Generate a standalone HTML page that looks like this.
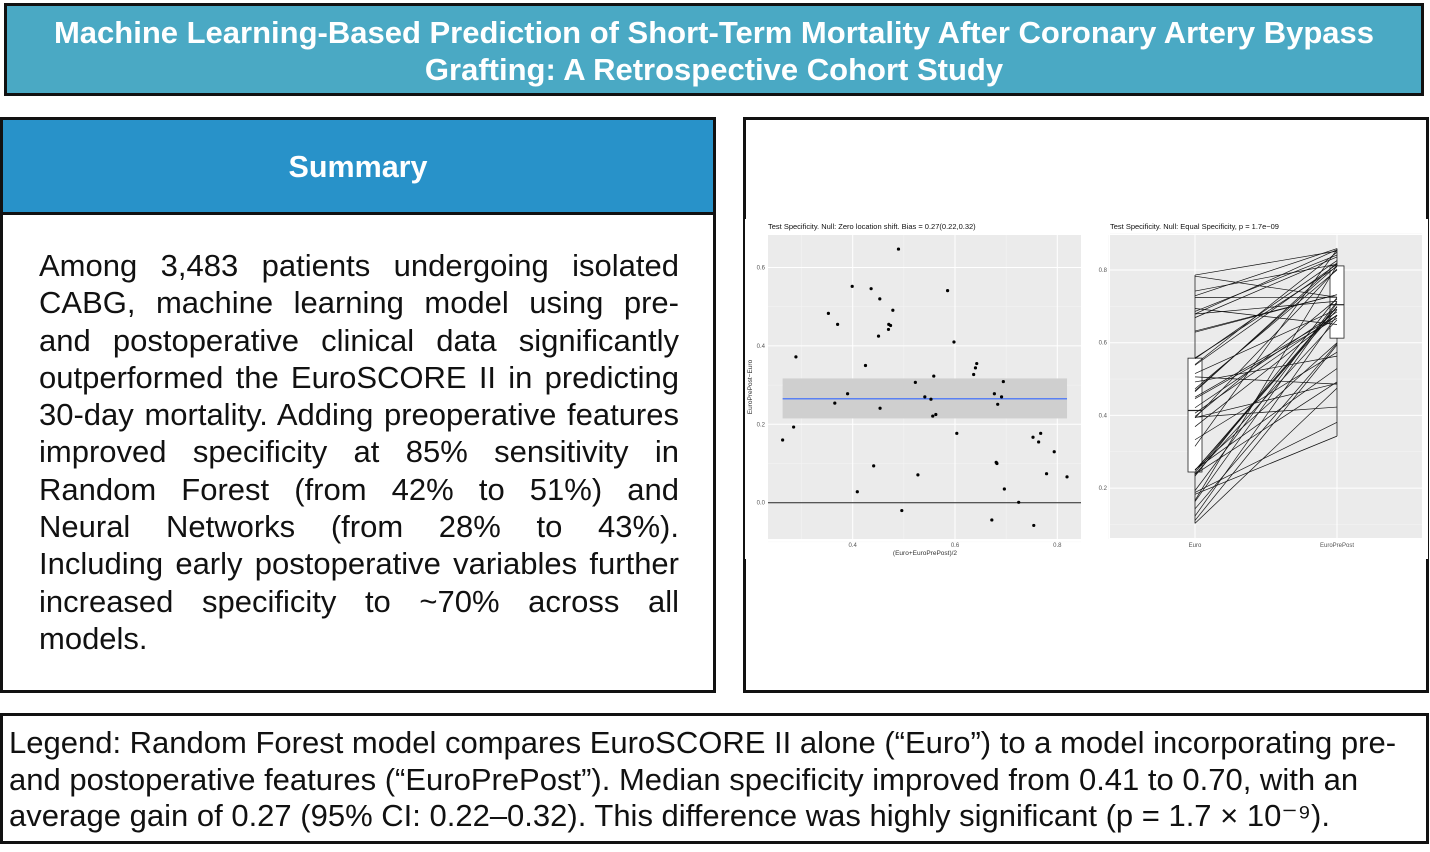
<!DOCTYPE html>
<html><head><meta charset="utf-8">
<style>
*{margin:0;padding:0;box-sizing:border-box}
body{width:1430px;height:852px;background:#fff;position:relative;overflow:hidden;font-family:"Liberation Sans",Arial,sans-serif}
.box{position:absolute;border:3px solid #111}
#title{left:4px;top:3px;width:1420px;height:93px;background:#4aa9c4;color:#fff;font-weight:bold;font-size:31px;text-align:center;line-height:37px;padding-top:8px;white-space:nowrap}
#sum{left:0;top:117px;width:716px;height:576px}
#sumhead{position:absolute;left:0;top:0;width:710px;height:95px;background:#2892c9;border-bottom:3px solid #111;color:#fff;font-weight:bold;font-size:30.5px;text-align:center;line-height:95px}
#sumbody{position:absolute;left:36px;top:127px;width:640px;font-size:31px;line-height:37.3px;color:#111}
#sumbody div{text-align:justify;text-align-last:justify;white-space:nowrap}
#sumbody div.last{text-align-last:left}
#chartbox{left:743px;top:117px;width:686px;height:576px}
#legend{left:0;top:713px;width:1429px;height:131px;font-size:31px;line-height:36.7px;padding:9px 0 0 6px;color:#111;white-space:nowrap}
svg text{font-family:"Liberation Sans",Arial,sans-serif}
</style></head><body>
<div id="title" class="box">Machine Learning-Based Prediction of Short-Term Mortality After Coronary Artery Bypass<br>Grafting: A Retrospective Cohort Study</div>
<div id="sum" class="box">
<div id="sumhead">Summary</div>
<div id="sumbody">
<div>Among 3,483 patients undergoing isolated</div>
<div>CABG, machine learning model using pre-</div>
<div>and postoperative clinical data significantly</div>
<div>outperformed the EuroSCORE II in predicting</div>
<div>30-day mortality. Adding preoperative features</div>
<div>improved specificity at 85% sensitivity in</div>
<div>Random Forest (from 42% to 51%) and</div>
<div>Neural Networks (from 28% to 43%).</div>
<div>Including early postoperative variables further</div>
<div>increased specificity to ~70% across all</div>
<div class="last">models.</div>
</div></div>
<div id="chartbox" class="box"></div>
<svg id="charts" style="position:absolute;left:0;top:0" width="1430" height="852"></svg>
<div id="legend" class="box">Legend: Random Forest model compares EuroSCORE II alone (“Euro”) to a model incorporating pre-<br>and postoperative features (“EuroPrePost”). Median specificity improved from 0.41 to 0.70, with an<br>average gain of 0.27 (95% CI: 0.22–0.32). This difference was highly significant (p = 1.7 × 10⁻⁹).</div>
<script>
const euro=[0.183,0.188,0.103,0.111,0.143,0.238,0.251,0.123,0.395,0.250,0.163,0.394,0.238,0.193,0.333,0.243,0.249,0.248,0.233,0.166,0.506,0.369,0.492,0.406,0.421,0.446,0.397,0.450,0.315,0.393,0.515,0.473,0.468,0.465,0.694,0.538,0.629,0.632,0.558,0.556,0.540,0.679,0.724,0.669,0.783,0.686,0.679,0.742,0.729,0.786];
const prePost=[0.343,0.381,0.475,0.594,0.598,0.492,0.529,0.675,0.423,0.600,0.709,0.488,0.663,0.713,0.574,0.698,0.691,0.700,0.724,0.813,0.486,0.676,0.563,0.676,0.685,0.667,0.720,0.675,0.856,0.803,0.692,0.800,0.812,0.820,0.650,0.816,0.732,0.732,0.809,0.826,0.849,0.714,0.725,0.836,0.725,0.841,0.856,0.816,0.859,0.852];
const biasVals=[0.265,0.215,0.317];
const leftXTicks=[0.4,0.6,0.8];
const leftYTicks=[0.0,0.2,0.4,0.6];
const rightYTicks=[0.2,0.4,0.6,0.8];
const groups=["Euro","EuroPrePost"];
const NS="http://www.w3.org/2000/svg";
const svg=document.getElementById('charts');
function mk(t,a,p){const e=document.createElementNS(NS,t);for(const k in a)e.setAttribute(k,a[k]);(p||svg).appendChild(e);return e;}
mk('rect',{x:745,y:219,width:683,height:340,fill:'#fff'});
// LEFT
const lx=v=>852.7+(v-0.4)*511.5, ly=v=>502.7-v*392;
const L={x0:768,x1:1081,y0:235,y1:539};
mk('rect',{x:L.x0,y:L.y0,width:L.x1-L.x0,height:L.y1-L.y0,fill:'#ebebeb'});
for(let v=0.3;v<0.9;v+=0.2){mk('line',{x1:lx(v),x2:lx(v),y1:L.y0,y2:L.y1,stroke:'#f5f5f5','stroke-width':0.5});}
for(let v=-0.1;v<0.7;v+=0.2){mk('line',{x1:L.x0,x2:L.x1,y1:ly(v),y2:ly(v),stroke:'#f5f5f5','stroke-width':0.5});}
leftXTicks.forEach(v=>{mk('line',{x1:lx(v),x2:lx(v),y1:L.y0,y2:L.y1,stroke:'#fff','stroke-width':1});
 const t=mk('text',{x:lx(v),y:547,'font-size':6,fill:'#555','text-anchor':'middle'});t.textContent=v.toFixed(1);});
leftYTicks.forEach(v=>{mk('line',{x1:L.x0,x2:L.x1,y1:ly(v),y2:ly(v),stroke:'#fff','stroke-width':1});
 const t=mk('text',{x:765,y:ly(v)+2,'font-size':6,fill:'#555','text-anchor':'end'});t.textContent=v.toFixed(1);});
const means=euro.map((e,i)=>(e+prePost[i])/2), diffs=euro.map((e,i)=>prePost[i]-e);
const mnX=Math.min(...means), mxX=Math.max(...means);
mk('rect',{x:lx(mnX),y:ly(biasVals[2]),width:lx(mxX)-lx(mnX),height:ly(biasVals[1])-ly(biasVals[2]),fill:'#cfcfcf'});
mk('line',{x1:lx(mnX),x2:lx(mxX),y1:ly(biasVals[0]),y2:ly(biasVals[0]),stroke:'#3366ff','stroke-width':1.2});
mk('line',{x1:L.x0,x2:L.x1,y1:ly(0),y2:ly(0),stroke:'#222','stroke-width':1});
means.forEach((m,i)=>{const c=mk('circle',{cx:lx(m),cy:ly(diffs[i]),r:1.6,fill:'#000'});

});
let t=mk('text',{x:768,y:229,'font-size':7.5,fill:'#111'});t.textContent='Test Specificity. Null: Zero location shift. Bias = 0.27(0.22,0.32)';
t=mk('text',{x:925,y:555,'font-size':6.5,fill:'#333','text-anchor':'middle'});t.textContent='(Euro+EuroPrePost)/2';
t=mk('text',{x:0,y:0,'font-size':6.5,fill:'#333','text-anchor':'middle',transform:'translate(752,387) rotate(-90)'});t.textContent='EuroPrePost−Euro';
// RIGHT
const R={x0:1110,x1:1422,y0:235,y1:538};
const gx=[1195,1337], ry=v=>270+(0.8-v)*363.5;
mk('rect',{x:R.x0,y:R.y0,width:R.x1-R.x0,height:R.y1-R.y0,fill:'#ebebeb'});
for(let v=0.1;v<0.95;v+=0.2){mk('line',{x1:R.x0,x2:R.x1,y1:ry(v),y2:ry(v),stroke:'#f5f5f5','stroke-width':0.5});}
rightYTicks.forEach(v=>{mk('line',{x1:R.x0,x2:R.x1,y1:ry(v),y2:ry(v),stroke:'#fff','stroke-width':1});
 const t=mk('text',{x:1107,y:ry(v)+2,'font-size':6,fill:'#555','text-anchor':'end'});t.textContent=v.toFixed(1);});
groups.forEach((g,i)=>{mk('line',{x1:gx[i],x2:gx[i],y1:R.y0,y2:R.y1,stroke:'#fff','stroke-width':1});
 const t=mk('text',{x:gx[i],y:547,'font-size':6,fill:'#555','text-anchor':'middle'});t.textContent=g;});
function q(a,p){const s=[...a].sort((x,y)=>x-y);const h=(s.length-1)*p,l=Math.floor(h);return s[l]+(s[Math.min(l+1,s.length-1)]-s[l])*(h-l);}
[euro,prePost].forEach((arr,i)=>{const q1=q(arr,0.25),q2=q(arr,0.5),q3=q(arr,0.75),iqr=q3-q1;
 const lo=Math.min(...arr.filter(v=>v>=q1-1.5*iqr)),hi=Math.max(...arr.filter(v=>v<=q3+1.5*iqr));
 mk('line',{x1:gx[i],x2:gx[i],y1:ry(hi),y2:ry(lo),stroke:'#222','stroke-width':0.8});
 const b=mk('rect',{x:gx[i]-7,y:ry(q3),width:14,height:ry(q1)-ry(q3),fill:'#fff',stroke:'#222','stroke-width':0.8});
 
 
 mk('line',{x1:gx[i]-7,x2:gx[i]+7,y1:ry(q2),y2:ry(q2),stroke:'#222','stroke-width':1.2});});
euro.forEach((e,i)=>{const l=mk('line',{x1:gx[0],y1:ry(e),x2:gx[1],y2:ry(prePost[i]),stroke:'#111','stroke-width':0.7});

});
t=mk('text',{x:1110,y:229,'font-size':7.5,fill:'#111'});t.textContent='Test Specificity. Null: Equal Specificity,  p = 1.7e−09';
</script>
</body></html>
